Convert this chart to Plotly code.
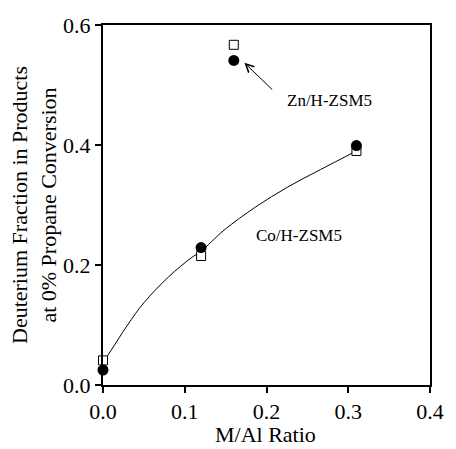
import plotly.graph_objects as go

# Data
ratio = [0.0, 0.12, 0.16, 0.31]
filled_vals = [0.025, 0.229, 0.541, 0.399]
open_vals = [0.041, 0.215, 0.567, 0.390]

# Fitted trend line for Co/H-ZSM5
fit_x = [0.0, 0.01, 0.03, 0.05, 0.08, 0.108, 0.12, 0.148, 0.187, 0.226, 0.266, 0.31]
fit_y = [0.038, 0.058, 0.100, 0.137, 0.180, 0.212, 0.223, 0.258, 0.297, 0.330, 0.359, 0.390]

FONT = "Liberation Serif, Times New Roman, serif"

fig = go.Figure()
fig.add_trace(go.Scatter(x=fit_x, y=fit_y, mode="lines", line=dict(color="black", width=1, shape="spline"),
                         hoverinfo="skip", showlegend=False, cliponaxis=False))
fig.add_trace(go.Scatter(x=ratio, y=open_vals, mode="markers",
                         marker=dict(symbol="square", size=9, color="white", line=dict(color="black", width=1)),
                         showlegend=False, cliponaxis=False))
fig.add_trace(go.Scatter(x=ratio, y=filled_vals, mode="markers",
                         marker=dict(symbol="circle", size=11, color="black", line=dict(width=0)),
                         showlegend=False, cliponaxis=False))

fig.update_layout(
    width=456, height=449,
    margin=dict(l=103, r=14, t=25, b=64),
    paper_bgcolor="white", plot_bgcolor="white",
    font=dict(family=FONT, size=22, color="black"),
    xaxis=dict(range=[0, 0.4], dtick=0.1, tick0=0, tickformat=".1f", showline=True, linewidth=2,
               linecolor="black", mirror=True, ticks="outside", ticklen=6, tickwidth=2, tickcolor="black",
               showgrid=False, zeroline=False, tickfont=dict(family=FONT, size=22)),
    yaxis=dict(range=[0, 0.6], dtick=0.2, tick0=0, tickformat=".1f", showline=True, linewidth=2,
               linecolor="black", mirror=True, ticks="outside", ticklen=6, tickwidth=2, tickcolor="black",
               showgrid=False, zeroline=False, tickfont=dict(family=FONT, size=22)),
    annotations=[
        dict(text="Deuterium Fraction in Products<br>at 0% Propane Conversion", xref="paper", yref="paper",
             x=-0.211, y=0.5, textangle=-90, showarrow=False, font=dict(family=FONT, size=22),
             xanchor="center", yanchor="middle"),
        dict(text="M/Al Ratio", xref="paper", yref="paper", x=0.497, y=-0.138, showarrow=False,
             font=dict(family=FONT, size=22), xanchor="center", yanchor="middle"),
        dict(text="Zn/H-ZSM5", x=0.2775, y=0.475, xref="x", yref="y", showarrow=False,
             font=dict(family=FONT, size=17)),
        dict(text="Co/H-ZSM5", x=0.24, y=0.25, xref="x", yref="y", showarrow=False,
             font=dict(family=FONT, size=17)),
        dict(text="", x=0.173, y=0.537, ax=0.2088, ay=0.49, xref="x", yref="y", axref="x", ayref="y",
             showarrow=True, arrowhead=5, arrowsize=1.6, arrowwidth=1, arrowcolor="black"),
    ],
)

fig.write_html("out.html")
